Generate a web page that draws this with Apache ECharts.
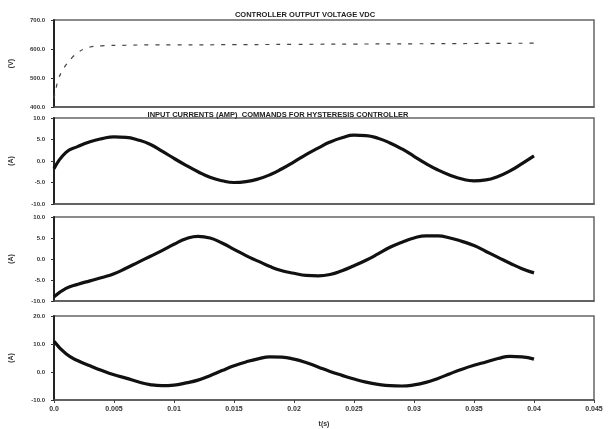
<!DOCTYPE html>
<html>
<head>
<meta charset="utf-8">
<script src="https://cdn.jsdelivr.net/npm/echarts@6/dist/echarts.min.js"></script>
<style>html,body{margin:0;padding:0;background:#fff}#c{width:610px;height:429px}</style>
</head>
<body>
<div id="c"></div>
<script>
// Time grid (s)
var time = [0,0.001,0.002,0.003,0.004,0.005,0.006,0.007,0.008,0.009,0.010,0.011,0.012,0.013,0.014,0.015,0.016,0.017,0.018,0.019,0.020,0.021,0.022,0.023,0.024,0.025,0.026,0.027,0.028,0.029,0.030,0.031,0.032,0.033,0.034,0.035,0.036,0.037,0.038,0.039,0.040];
// Controller output voltage Vdc
var vdcTime = [0,0.0002,0.0004,0.0007,0.001,0.0015,0.002,0.0025,0.003,0.004,0.006,0.008,0.010,0.015,0.020,0.025,0.030,0.035,0.040];
var vdc = [430,470,500,525,545,570,588,600,607,611,613,614,614,615,616,617,618,619,620];
// Input currents (A)
var ia = [-1.8,2.0,3.4,4.5,5.2,5.6,5.5,4.9,3.9,2.3,0.6,-1.0,-2.5,-3.8,-4.6,-5.0,-4.8,-4.2,-3.2,-1.8,-0.2,1.5,3.0,4.4,5.4,6.0,5.9,5.3,4.2,2.8,1.1,-0.6,-2.1,-3.3,-4.2,-4.6,-4.4,-3.6,-2.3,-0.6,1.2];
var ib = [-9.0,-7.0,-6.0,-5.2,-4.4,-3.5,-2.2,-0.8,0.6,2.0,3.5,4.8,5.4,5.0,3.8,2.3,0.8,-0.5,-1.8,-2.8,-3.4,-3.9,-4.0,-3.7,-2.8,-1.6,-0.3,1.2,2.8,4.0,5.0,5.5,5.5,5.0,4.2,3.2,1.8,0.4,-1.0,-2.3,-3.3];
var ic = [11.0,6.5,4.0,2.2,0.5,-1.0,-2.2,-3.5,-4.5,-4.9,-4.7,-3.9,-2.9,-1.3,0.5,2.2,3.6,4.7,5.4,5.3,4.6,3.4,1.8,0.2,-1.2,-2.5,-3.6,-4.4,-4.9,-5.0,-4.6,-3.7,-2.3,-0.6,1.0,2.4,3.6,4.8,5.6,5.4,4.6];
// Axis settings / labels
var xMin = 0, xMax = 0.045, xStep = 0.005;
var xTickLabels = ['0.0','0.005','0.01','0.015','0.02','0.025','0.03','0.035','0.04','0.045'];
var yRanges = [[400,700,100],[-10,10,5],[-10,10,5],[-10,20,10]];
var yNames = ['(V)','(A)','(A)','(A)'];
var titles = ['CONTROLLER OUTPUT VOLTAGE VDC','INPUT CURRENTS (AMP)  COMMANDS FOR HYSTERESIS CONTROLLER'];

function pairs(t, v){ return t.map(function(x,i){return [x, v[i]];}); }

var gridPos = [[20,87],[118,86],[217,84],[316,84]];
var grids = [], xAxes = [], yAxes = [];
gridPos.forEach(function(g, i){
  grids.push({left:54, right:16, top:g[0], height:g[1], show:true, borderColor:'#666', borderWidth:1.5, backgroundColor:'transparent'});
  xAxes.push({
    type:'value', gridIndex:i, min:xMin, max:xMax, interval:xStep,
    axisLine:{show:true, onZero:false, lineStyle:{color:'#555', width:1.5}},
    axisTick:{show:i===3, length:3, lineStyle:{color:'#444'}},
    splitLine:{show:false},
    axisLabel:{show:i===3, fontSize:7, fontWeight:'bold', color:'#333', margin:6, fontFamily:'Liberation Sans',
      formatter:function(v){ var k=Math.round(v/xStep); return xTickLabels[k]||''; }},
    name: i===3 ? 't(s)' : '', nameLocation:'middle', nameGap:21,
    nameTextStyle:{fontSize:7, fontWeight:'bold', color:'#333', fontFamily:'Liberation Sans'}
  });
  var r = yRanges[i];
  yAxes.push({
    type:'value', gridIndex:i, min:r[0], max:r[1], interval:r[2],
    axisLine:{show:true, onZero:false, lineStyle:{color:'#222', width:2}},
    axisTick:{show:true, length:3, lineStyle:{color:'#333'}},
    splitLine:{show:false},
    axisLabel:{fontSize:6, fontWeight:'bold', color:'#333', margin:9, fontFamily:'Liberation Sans',
      formatter:function(v){ return v.toFixed(1); }},
    name: yNames[i], nameLocation:'middle', nameGap:39, nameRotate:90,
    nameTextStyle:{fontSize:7, fontWeight:'bold', color:'#333', fontFamily:'Liberation Sans'}
  });
});

var chart = echarts.init(document.getElementById('c'), null, {renderer:'canvas'});
chart.setOption({
  backgroundColor:'#fff',
  animation:false,
  title:[
    {text:titles[0], left:300, top:6, textAlign:'center', textStyle:{fontSize:7.5, fontWeight:'bold', color:'#222', fontFamily:'Liberation Sans'}},
    {text:titles[1], left:273, top:106, textAlign:'center', textStyle:{fontSize:7.5, fontWeight:'bold', color:'#222', fontFamily:'Liberation Sans'}}
  ],
  grid:grids, xAxis:xAxes, yAxis:yAxes,
  series:[
    {type:'line', xAxisIndex:0, yAxisIndex:0, data:pairs(vdcTime, vdc), showSymbol:false, smooth:true,
      lineStyle:{color:'#444', width:1.2, type:[4,7]}},
    {type:'line', xAxisIndex:1, yAxisIndex:1, data:pairs(time, ia), showSymbol:false, smooth:true,
      lineStyle:{color:'#111', width:3.2}},
    {type:'line', xAxisIndex:2, yAxisIndex:2, data:pairs(time, ib), showSymbol:false, smooth:true,
      lineStyle:{color:'#111', width:3.2}},
    {type:'line', xAxisIndex:3, yAxisIndex:3, data:pairs(time, ic), showSymbol:false, smooth:true,
      lineStyle:{color:'#111', width:3.2}}
  ]
});
</script>
</body>
</html>
